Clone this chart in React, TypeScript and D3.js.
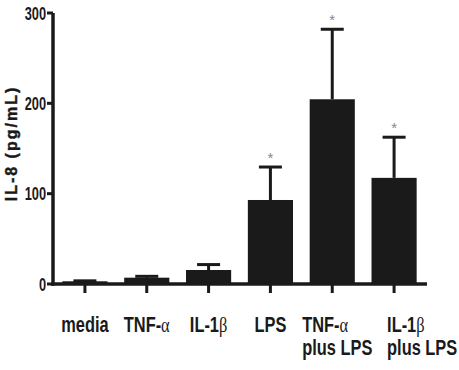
import React from 'react';
import * as d3 from 'd3';

const categories = ['media', 'TNF-α', 'IL-1β', 'LPS', 'TNF-α plus LPS', 'IL-1β plus LPS'];
const means = [3, 7, 15.5, 93, 204.5, 117.5];
const errors = [0.5, 1.5, 6, 36.5, 77.5, 45];
const significant = [false, false, false, true, true, true];
const yTicks = [0, 100, 200, 300];

// label lines: [text, greek suffix]
const labelLines: [string, string][][] = [
  [['media', '']],
  [['TNF-', 'α']],
  [['IL-1', 'β']],
  [['LPS', '']],
  [['TNF-', 'α'], ['plus LPS', '']],
  [['IL-1', 'β'], ['plus LPS', '']],
];

const width = 459;
const height = 370;
const sans = '"Liberation Sans", Arial, sans-serif';
const serif = '"Liberation Serif", "Times New Roman", serif';
const ink = '#1a1a1a';

const App: React.FC = () => {
  const x = d3.scaleBand<string>()
    .domain(categories)
    .range([54, 425])
    .paddingInner(0.27)
    .paddingOuter(0.135);

  const y = d3.scaleLinear().domain([0, 300]).range([284, 13]);

  const cx = (c: string) => (x(c) || 0) + x.bandwidth() / 2;

  // two-line labels are left-aligned in the original
  const labelX = (i: number) => {
    const c = categories[i];
    if (i === 4) return { x: cx(c) - 30, anchor: 'start' };
    if (i === 5) return { x: cx(c) - 7, anchor: 'start' };
    return { x: cx(c), anchor: 'middle' };
  };

  return (
    <svg width={width} height={height} style={{ position: 'absolute', left: 0, top: 0, background: '#fff' }}>
      {/* bars */}
      {categories.map((c, i) => (
        <rect key={c} x={x(c)} y={y(means[i])} width={x.bandwidth()}
          height={y(0) - y(means[i])} fill={ink} />
      ))}

      {/* error bars (upper only) */}
      {categories.map((c, i) => {
        const top = y(means[i] + errors[i]);
        return (
          <g key={c} stroke={ink} strokeWidth={3}>
            <line x1={cx(c)} x2={cx(c)} y1={y(means[i])} y2={top} />
            <line x1={cx(c) - 11.5} x2={cx(c) + 11.5} y1={top} y2={top} />
          </g>
        );
      })}

      {/* asterisks */}
      {categories.map((c, i) => significant[i] && (
        <text key={c} x={cx(c)} y={y(means[i] + errors[i]) - 13 + 8.5}
          textAnchor="middle" fontSize={15} fill="#888" fontFamily={sans}>*</text>
      ))}

      {/* y axis */}
      <line x1={53} x2={53} y1={y(300)} y2={y(0) + 1.75} stroke={ink} strokeWidth={3.5} />
      {yTicks.map(t => (
        <g key={t}>
          <line x1={47} x2={53} y1={y(t)} y2={y(t)} stroke={ink} strokeWidth={3} />
          <text transform={`translate(46,${y(t) + 6.5}) scale(0.8,1.15)`} textAnchor="end"
            fontSize={16} fontWeight="bold" fontFamily={sans} fill={ink}>{t}</text>
        </g>
      ))}

      {/* x axis */}
      <line x1={51.25} x2={427} y1={y(0)} y2={y(0)} stroke={ink} strokeWidth={3.5} />
      {categories.map(c => (
        <line key={c} x1={cx(c)} x2={cx(c)} y1={y(0)} y2={y(0) + 9} stroke={ink} strokeWidth={3} />
      ))}

      {/* x labels */}
      {labelLines.map((lines, i) => {
        const p = labelX(i);
        return lines.map(([txt, greek], j) => (
          <text key={`${i}-${j}`} transform={`translate(${p.x},${332 + j * 22.5}) scale(0.82,1.08)`}
            textAnchor={p.anchor} fontSize={20} fontWeight="bold" fontFamily={sans} fill={ink}>
            {txt}
            {greek && <tspan fontFamily={serif} fontWeight="normal">{greek}</tspan>}
          </text>
        ));
      })}

      {/* y title */}
      <text transform={`translate(17,${143.5}) rotate(-90)`} textAnchor="middle"
        fontSize={16} fontWeight="bold" letterSpacing={2} stroke={ink} strokeWidth={0.4}
        fontFamily={sans} fill={ink}>IL-8 (pg/mL)</text>
    </svg>
  );
};

export default App;
